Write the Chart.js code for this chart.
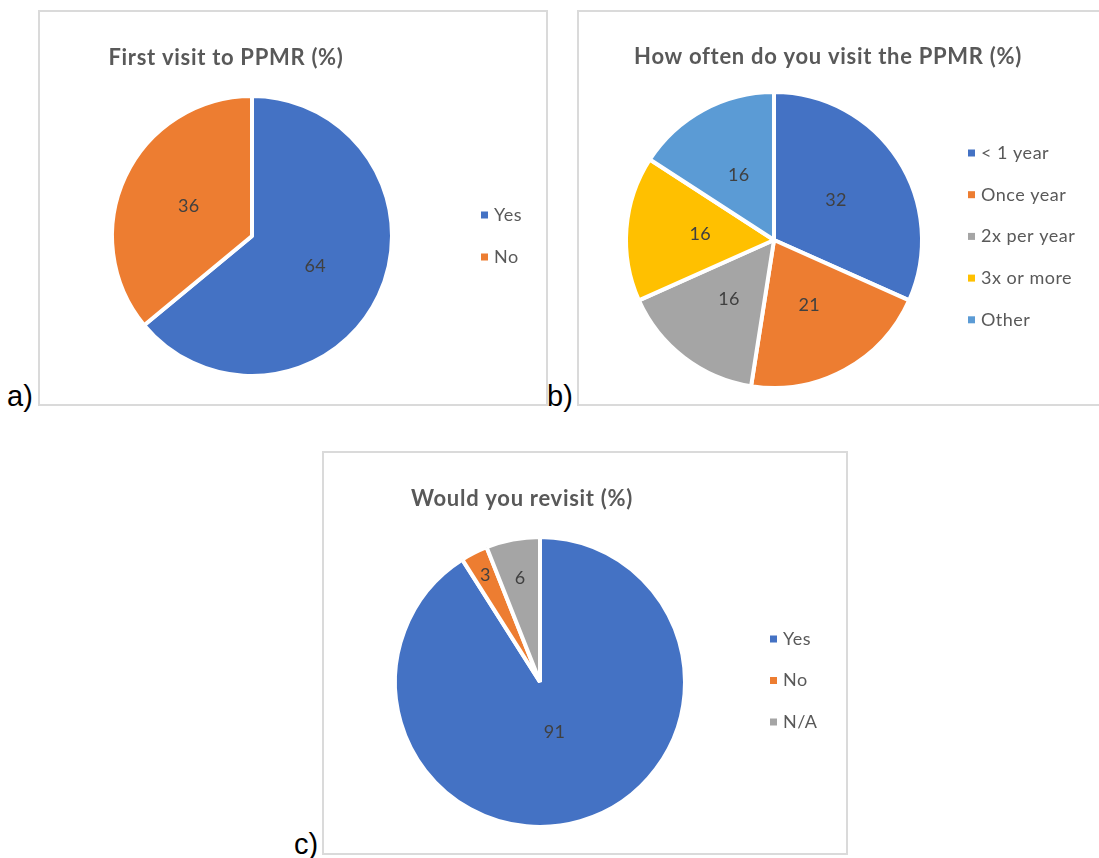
<!DOCTYPE html>
<html>
<head>
<meta charset="utf-8">
<script src="https://cdn.jsdelivr.net/npm/chart.js@4.4.1/dist/chart.umd.min.js"></script>
<style>
  body { margin: 0; background: #fff; width: 1099px; height: 858px; overflow: hidden; position: relative; }
  .panel { position: absolute; border: 2px solid #dadada; box-sizing: border-box; background: #fff; }
  .panel canvas { position: absolute; left: 0; top: 0; }
  .tag { position: absolute; font-family: "Liberation Sans", Arial, sans-serif; font-size: 29px; line-height: 1; color: #000; }
</style>
</head>
<body>
<div class="panel" id="panel-a" style="left:38px;top:10px;width:510px;height:396px"><canvas id="chart-a"></canvas></div>
<div class="panel" id="panel-b" style="left:577px;top:10px;width:540px;height:396px"><canvas id="chart-b"></canvas></div>
<div class="panel" id="panel-c" style="left:322px;top:451px;width:526px;height:404px"><canvas id="chart-c"></canvas></div>
<div class="tag" style="left:7px;top:382px">a)</div>
<div class="tag" style="left:547px;top:382px">b)</div>
<div class="tag" style="left:294px;top:830px">c)</div>

<script>
  // a) First visit
  var firstLabels = ["Yes", "No"];
  var firstValues = [64, 36];

  // b) How often
  var oftenLabels = ["< 1 year", "Once year", "2x per year", "3x or more", "Other"];
  var oftenValues = [32, 21, 16, 16, 16];

  // c) Revisit
  var revisitLabels = ["Yes", "No", "N/A"];
  var revisitValues = [91, 3, 6];

  var BLUE = "#4472c4";
  var ORANGE = "#ed7d31";
  var GRAY = "#a5a5a5";
  var YELLOW = "#ffc000";
  var LIGHTBLUE = "#5b9bd5";

  var FONT = "Lato, 'Open Sans', sans-serif";
  var BORDER = 4;

  var decorPlugin = {
    id: "decor",
    afterDraw: function (chart) {
      var spec = chart.options.decor;
      if (!spec) return;
      var ctx = chart.ctx;
      var ox = spec.originX, oy = spec.originY;
      ctx.save();

      // title
      ctx.font = "bold 22px " + FONT;
      ctx.letterSpacing = "0.7px";
      ctx.fillStyle = "#595959";
      ctx.textAlign = "center";
      ctx.textBaseline = "middle";
      ctx.fillText(spec.title, spec.titleX - ox, spec.titleY - oy);

      // value labels inside slices
      var meta = chart.getDatasetMeta(0);
      var values = chart.data.datasets[0].data;
      ctx.font = "18px " + FONT;
      ctx.letterSpacing = "0.3px";
      ctx.fillStyle = "#404040";
      meta.data.forEach(function (arc, i) {
        var p = arc.getProps(["x", "y", "startAngle", "endAngle", "outerRadius"], true);
        var mid = (p.startAngle + p.endAngle) / 2;
        var rr = p.outerRadius * (spec.labelPos ? spec.labelPos[i] : 0.5);
        ctx.fillText(String(values[i]), p.x + Math.cos(mid) * rr, p.y + Math.sin(mid) * rr);
      });

      // legend
      var colors = chart.data.datasets[0].backgroundColor;
      ctx.textAlign = "left";
      ctx.font = "18px " + FONT;
      ctx.letterSpacing = "0.5px";
      chart.data.labels.forEach(function (lab, i) {
        var y = spec.legendY + i * spec.legendGap - oy;
        var x = spec.legendX - ox;
        ctx.fillStyle = colors[i];
        ctx.fillRect(x, y - 3.5, 7, 7);
        ctx.fillStyle = "#595959";
        ctx.fillText(lab, x + 13, y);
      });
      ctx.restore();
    }
  };

  function makePie(canvasId, panelId, labels, values, colors, cx, cy, r, decor) {
    var panel = document.getElementById(panelId);
    var canvas = document.getElementById(canvasId);
    var rect = panel.getBoundingClientRect();
    var ox = rect.left + 2, oy = rect.top + 2;
    var w = rect.width - 4, h = rect.height - 4;
    canvas.width = w;
    canvas.height = h;
    canvas.style.width = w + "px";
    canvas.style.height = h + "px";

    var size = 2 * r + 2 * BORDER;
    var left = cx - ox - size / 2;
    var top = cy - oy - size / 2;
    decor.originX = ox;
    decor.originY = oy;

    return new Chart(canvas, {
      type: "pie",
      data: {
        labels: labels,
        datasets: [{
          data: values,
          backgroundColor: colors,
          borderColor: "#ffffff",
          borderWidth: BORDER
        }]
      },
      options: {
        responsive: false,
        animation: false,
        layout: { padding: { left: left, top: top, right: w - left - size, bottom: h - top - size } },
        plugins: {
          legend: { display: false },
          tooltip: { enabled: false },
          title: { display: false }
        },
        decor: decor
      },
      plugins: [decorPlugin]
    });
  }

  makePie("chart-a", "panel-a", firstLabels, firstValues, [BLUE, ORANGE], 252, 236, 138, {
    title: "First visit to PPMR (%)", titleX: 226, titleY: 58,
    legendX: 481, legendY: 215, legendGap: 42
  });

  makePie("chart-b", "panel-b", oftenLabels, oftenValues, [BLUE, ORANGE, GRAY, YELLOW, LIGHTBLUE], 774, 240, 146, {
    title: "How often do you visit the PPMR (%)", titleX: 828, titleY: 57,
    legendX: 968, legendY: 153, legendGap: 41.7
  });

  makePie("chart-c", "panel-c", revisitLabels, revisitValues, [BLUE, ORANGE, GRAY], 540, 682, 143, {
    title: "Would you revisit (%)", titleX: 522, titleY: 499,
    legendX: 770, legendY: 639, legendGap: 41.5,
    labelPos: [0.36, 0.83, 0.73]
  });
</script>
</body>
</html>
